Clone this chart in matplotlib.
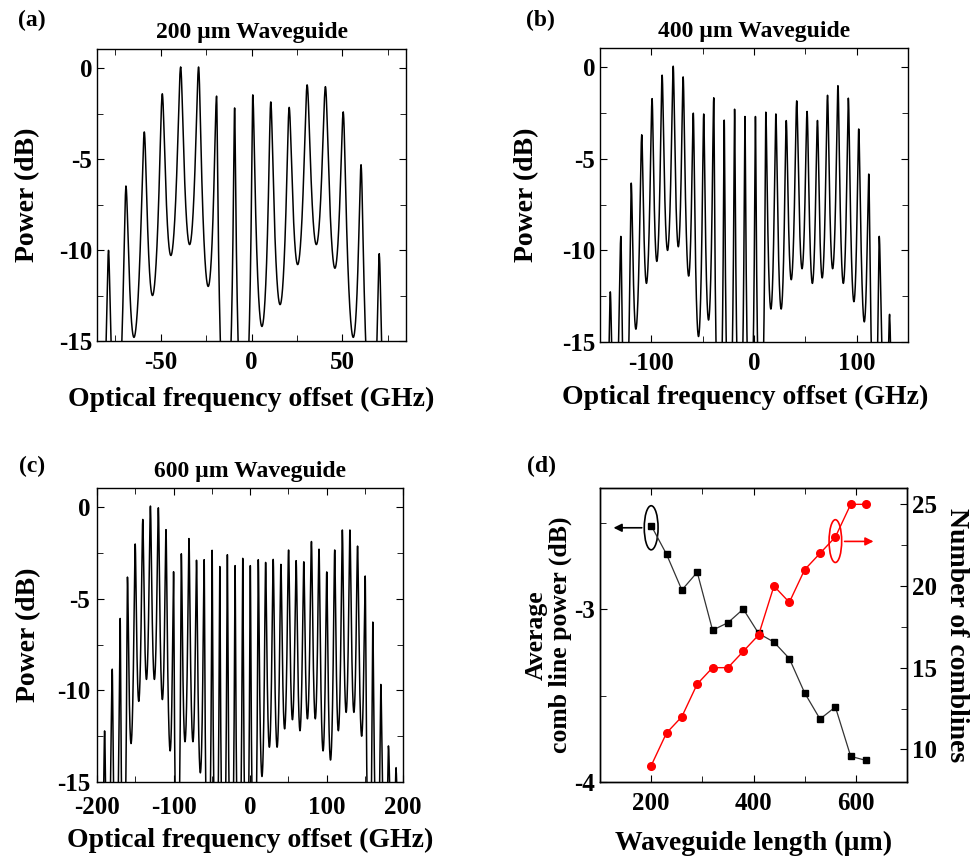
import numpy as np
import matplotlib
matplotlib.use('Agg')
import matplotlib.pyplot as plt
from matplotlib.patches import Ellipse
from matplotlib.ticker import MultipleLocator

plt.rcParams['font.family'] = ['Liberation Serif', 'DejaVu Serif']
plt.rcParams['font.weight'] = 'bold'
plt.rcParams['axes.labelweight'] = 'bold'
plt.rcParams['axes.linewidth'] = 1.0
plt.rcParams['axes.unicode_minus'] = False

# --- (a) 200 um waveguide: comb line positions (GHz), peak power (dB), dip between lines (dB)
a_freq = [-78.7, -69.1, -59.0, -49.1, -39.0, -29.1, -19.2, -9.3, 0.7, 10.6,
          20.7, 30.6, 40.7, 50.5, 60.3, 70.3]
a_peak = [-10.1, -6.6, -3.6, -1.5, 0.0, 0.0, -1.6, -2.2, -1.5, -1.9,
          -2.25, -1.0, -1.1, -2.5, -5.4, -10.3]
a_dip = [-20, -14.8, -12.5, -10.3, -9.7, -12.0, -20, -20, -14.2, -13.0,
         -10.8, -9.7, -11.0, -14.8, -20]

# --- (b) 400 um waveguide
b_freq = [-140.0, -129.7, -119.6, -109.4, -99.3, -89.5, -78.7, -69.0, -59.1, -49.0,
          -39.2, -29.0, -18.9, -8.8, 1.4, 11.5, 21.3, 31.4, 41.6, 51.7,
          61.8, 71.6, 81.8, 91.9, 102.0, 111.8, 122.0, 132.1]
b_peak = [-12.4, -9.3, -6.45, -3.8, -1.8, -0.5, 0.0, -0.6, -2.6, -2.6,
          -1.7, -2.9, -2.3, -2.7, -2.7, -2.5, -2.6, -3.0, -1.9, -2.5,
          -3.0, -1.6, -1.06, -1.75, -3.45, -5.95, -9.3, -13.7]
b_dip = [-20, -20, -14.3, -11.8, -10.6, -10.0, -9.8, -11.4, -14.7, -13.8,
         -20, -20, -20, -20, -20, -13.2, -13.2, -11.6, -11.0, -11.8,
         -11.5, -11.0, -11.8, -12.8, -13.9, -20, -20]

# --- (c) 600 um waveguide
c_freq = [-190.1, -180.1, -169.7, -160.2, -150.1, -140.2, -130.2, -119.8, -109.8, -99.9,
          -89.8, -79.8, -69.9, -59.9, -49.5, -39.5, -29.6, -19.5, -9.5, 0.4,
          10.8, 20.4, 30.3, 40.4, 50.4, 60.3, 70.3, 80.3, 90.2, 100.3,
          110.7, 120.7, 130.6, 140.6, 150.6, 160.5, 171.0, 181.0, 191.0]
c_peak = [-12.35, -8.9, -6.1, -3.9, -2.1, -0.75, 0.0, -0.1, -1.3, -3.6,
          -2.6, -1.75, -2.96, -2.9, -2.36, -3.25, -2.6, -3.2, -2.8, -3.2,
          -2.9, -3.07, -2.9, -3.2, -2.4, -3.0, -3.07, -1.93, -2.36, -3.6,
          -2.4, -1.3, -1.3, -2.2, -3.85, -6.3, -9.75, -13.2, -14.4]
c_dip = [-20, -20, -20, -12.9, -10.6, -9.4, -9.4, -10.5, -13.3, -20,
         -12.8, -12.8, -14.5, -20, -20, -20, -20, -20, -20, -20,
         -14.7, -13.1, -13.1, -12.1, -11.6, -12.2, -11.55, -11.55, -13.3, -13.8,
         -12.2, -11.2, -11.2, -12.5, -20, -20, -20, -20]

# --- (d) summary vs waveguide length
wg_length = [200, 230, 260, 290, 320, 350, 380, 410, 440, 470, 500, 530, 560, 590, 620]
avg_power = [-2.517, -2.683, -2.890, -2.787, -3.122, -3.079, -3.0, -3.141, -3.191,
             -3.286, -3.485, -3.636, -3.566, -3.852, -3.875]
n_lines = [9, 11, 12, 14, 15, 15, 16, 17, 20, 19, 21, 22, 23, 25, 25]


def comb_trace(freq, peak, dip, lo, hi):
    # lorentzian lines, width of each gap picked so the dip hits the read level
    xs, ys, gs = [], [], []
    for i in range(len(dip)):
        f1, f2 = freq[i], freq[i + 1]
        a1, a2 = 10 ** (peak[i] / 10), 10 ** (peak[i + 1] / 10)
        x = np.linspace(f1, f2, 800)
        g_lo, g_hi = 0.005, 30.0
        for _ in range(60):
            g = np.sqrt(g_lo * g_hi)
            lin = a1 / (1 + ((x - f1) / g) ** 2) + a2 / (1 + ((x - f2) / g) ** 2)
            if 10 * np.log10(lin.min()) > dip[i]:
                g_hi = g
            else:
                g_lo = g
        xs.append(x)
        ys.append(10 * np.log10(lin))
        gs.append(g)
    a0 = 10 ** (peak[0] / 10)
    xl = np.linspace(lo, freq[0], 300)
    yl = 10 * np.log10(a0 / (1 + ((xl - freq[0]) / gs[0]) ** 2))
    an = 10 ** (peak[-1] / 10)
    xr = np.linspace(freq[-1], hi, 300)
    yr = 10 * np.log10(an / (1 + ((xr - freq[-1]) / gs[-1]) ** 2))
    return np.concatenate([xl] + xs + [xr]), np.concatenate([yl] + ys + [yr])


fig = plt.figure(figsize=(9.77, 8.68), dpi=100)

W, H = 977.0, 868.0


def add_axes(l, t, r, b):
    return fig.add_axes([l / W, 1 - b / H, (r - l) / W, (b - t) / H])


ax_a = add_axes(97, 49, 406, 341)
ax_b = add_axes(600, 48, 908, 342)
ax_c = add_axes(97, 488, 403, 782)
ax_d = add_axes(600, 488, 907, 782)

spectra = [
    (ax_a, a_freq, a_peak, a_dip, (-85, 85), 50, 25, '200 \u00b5m Waveguide'),
    (ax_b, b_freq, b_peak, b_dip, (-150, 150), 100, 50, '400 \u00b5m Waveguide'),
    (ax_c, c_freq, c_peak, c_dip, (-200, 200), 100, 50, '600 \u00b5m Waveguide'),
]

for ax, fr, pk, dp, xlim, major, minor, title in spectra:
    x, y = comb_trace(fr, pk, dp, xlim[0], xlim[1])
    ax.plot(x, y, color='black', lw=1.1)
    ax.set_xlim(*xlim)
    ax.set_ylim(-15, 1.05)
    ax.xaxis.set_major_locator(MultipleLocator(major))
    ax.xaxis.set_minor_locator(MultipleLocator(minor))
    ax.yaxis.set_major_locator(MultipleLocator(5))
    ax.yaxis.set_minor_locator(MultipleLocator(2.5))
    ax.tick_params(which='both', direction='in', top=True, right=True, labelsize=18)
    ax.tick_params(which='major', length=5)
    ax.tick_params(which='minor', length=4)
    ax.tick_params(axis='x', pad=7)
    ax.set_xlabel('Optical frequency offset (GHz)', fontsize=20, va='center')
    ax.set_ylabel('Power (dB)', fontsize=20, va='center')
    ax.set_title(title, fontsize=17, fontweight='bold', pad=8)

# -200 sits right under -15 in (c)
ax_c.tick_params(axis='x', pad=10)
ax_c.tick_params(axis='y', pad=5)

ax_a.xaxis.set_label_coords(0.5, -0.2)
ax_a.yaxis.set_label_coords(-0.225, 0.5)
ax_b.xaxis.set_label_coords(0.47, -0.19)
ax_b.yaxis.set_label_coords(-0.237, 0.5)
ax_c.xaxis.set_label_coords(0.5, -0.2)
ax_c.yaxis.set_label_coords(-0.225, 0.5)

fig.text(32 / W, 1 - 20 / H, '(a)', fontsize=17, ha='center', va='center')
fig.text(540 / W, 1 - 20 / H, '(b)', fontsize=17, ha='center', va='center')
fig.text(32 / W, 1 - 466 / H, '(c)', fontsize=17, ha='center', va='center')
fig.text(542 / W, 1 - 466 / H, '(d)', fontsize=17, ha='center', va='center')

# --- (d)
ax_d.plot(wg_length, avg_power, color='#333333', lw=0.9, marker='s', ms=5,
          mfc='black', mec='black')
ax_d.set_xlim(100, 700)
ax_d.set_ylim(-4, -2.3)
ax_d.xaxis.set_major_locator(MultipleLocator(200))
ax_d.xaxis.set_minor_locator(MultipleLocator(100))
ax_d.yaxis.set_major_locator(MultipleLocator(1))
ax_d.yaxis.set_minor_locator(MultipleLocator(0.5))
ax_d.tick_params(which='both', direction='in', top=True, right=False, labelsize=18)
ax_d.tick_params(which='major', length=5)
ax_d.tick_params(which='minor', length=4)
ax_d.tick_params(axis='x', pad=7)
ax_d.set_xlabel('Waveguide length (\u00b5m)', fontsize=20, va='center')
ax_d.set_ylabel('Average\ncomb line power (dB)', fontsize=18.5, va='center',
                multialignment='center', linespacing=1.0)
ax_d.xaxis.set_label_coords(0.5, -0.21)
ax_d.yaxis.set_label_coords(-0.168, 0.5)

ax_d2 = ax_d.twinx()
ax_d2.plot(wg_length, n_lines, color='red', lw=1.0, marker='o', ms=5.5)
ax_d2.set_ylim(8, 26)
ax_d2.yaxis.set_major_locator(MultipleLocator(5))
ax_d2.yaxis.set_minor_locator(MultipleLocator(2.5))
ax_d2.tick_params(which='both', direction='in', labelsize=18)
ax_d2.tick_params(which='major', length=5)
ax_d2.tick_params(which='minor', length=4)
ax_d2.set_ylabel('Number of comblines', fontsize=20, rotation=270, va='center')
ax_d2.yaxis.set_label_coords(1.16, 0.5)

ax_d.add_patch(Ellipse((200, -2.53), 27, 0.255, fill=False, ec='black', lw=1.2))
ax_d.annotate('', xy=(121, -2.53), xytext=(187, -2.53),
              arrowprops=dict(arrowstyle='-|>', color='black', lw=1.2, mutation_scale=12))
ax_d2.add_patch(Ellipse((560, 22.75), 24.6, 2.62, fill=False, ec='red', lw=1.2))
ax_d2.annotate('', xy=(640, 22.73), xytext=(572.6, 22.73),
               arrowprops=dict(arrowstyle='-|>', color='red', lw=1.2, mutation_scale=12))

fig.savefig('out.png', dpi=100)
